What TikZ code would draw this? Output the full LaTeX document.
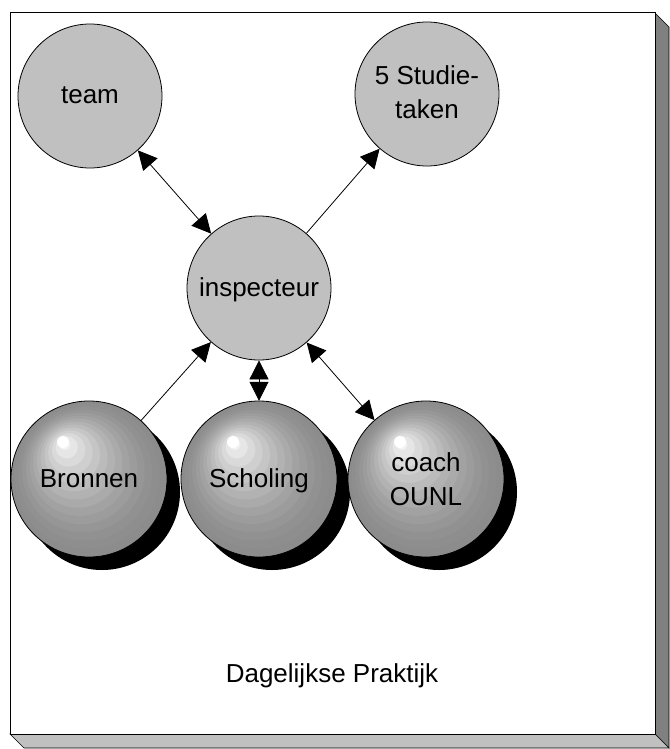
\documentclass[tikz,border=0pt]{standalone}
\usepackage{fontspec}
\setmainfont{Liberation Sans}
\usetikzlibrary{arrows.meta,calc}
\definecolor{circgray}{HTML}{C0C0C0}
\definecolor{darkside}{HTML}{808080}
\definecolor{lightside}{HTML}{C0C0C0}
\newcommand{\drawsphere}[1]{%
  \fill[black] ([xshift=13pt,yshift=-13pt]#1.center) circle[radius=78pt];
  \begin{scope}
    \clip (#1.center) circle[radius=78pt];
    \foreach \i in {0,...,13}{
      \pgfmathsetmacro\tt{\i/14}
      \pgfmathsetmacro\pp{45*(1-\tt^1.6)}
      \pgfmathsetmacro\dx{-26*\tt}
      \pgfmathsetmacro\dy{-37*\tt}
      \pgfmathsetmacro\rr{78*(1-\tt)}
      \fill[black!\pp] ($(#1.center)+(\dx,\dy)$) circle[radius=\rr pt];
    }
    \fill[white] ($(#1.center)+(-26,-37)$) circle[radius=6pt];
  \end{scope}
  \draw[line width=0.8pt] (#1.center) circle[radius=78pt];
}
\begin{document}
\begin{tikzpicture}[x=1pt,y=-1pt,
  plaincirc/.style={circle, draw=black, line width=0.8pt, fill=circgray, minimum size=144pt, inner sep=0pt},
  spherenode/.style={circle, minimum size=156pt, inner sep=0pt},
  lbl/.style={anchor=base, font=\fontsize{26}{34}\selectfont, inner sep=0pt},
  conn/.style={line width=0.8pt},
  tipend/.style={-{Triangle[length=19pt,width=19pt]}},
  bothend/.style={{Triangle[length=19pt,width=19pt]}-{Triangle[length=19pt,width=19pt]}}
]
\useasboundingbox (0,0) rectangle (669,749);
% frame with 3D sides
\filldraw[fill=darkside, draw=black, line width=0.6pt] (655,13) -- (669,27) -- (669,748) -- (655,734) -- cycle;
\filldraw[fill=lightside, draw=black, line width=0.6pt] (10,734) -- (655,734) -- (669,748) -- (24,748) -- cycle;
\filldraw[fill=white, draw=black, line width=1pt] (10,13) rectangle (655,734);

% plain circles
\node[plaincirc] (team) at (90,96) {};
\node[plaincirc] (stud) at (427,94) {};
\node[plaincirc] (insp) at (259,288) {};

% spheres
\node[spherenode] (bron) at (89,479) {};
\node[spherenode] (schol) at (259,479) {};
\node[spherenode] (coach) at (426,479) {};
\drawsphere{bron}
\drawsphere{schol}
\drawsphere{coach}

% labels
\node[lbl] (tteam) at ([yshift=-8pt]team.center) {team};
\node[lbl] (tstud1) at ([yshift=9pt]stud.center) {5 Studie-};
\node[lbl] (tstud2) at ([yshift=-25pt]stud.center) {taken};
\node[lbl] (tinsp) at ([yshift=-8pt]insp.center) {inspecteur};
\node[lbl] (tbron) at ([yshift=-8pt]bron.center) {Bronnen};
\node[lbl] (tschol) at ([yshift=-8pt]schol.center) {Scholing};
\node[lbl] (tcoach1) at ([yshift=8pt]coach.center) {coach};
\node[lbl] (tcoach2) at ([yshift=-26pt]coach.center) {OUNL};
\node[lbl] (tdag) at (332,682) {Dagelijkse Praktijk};

% connectors
\draw[conn, bothend] (team) -- (insp);
\draw[conn, tipend] (insp) -- (stud);
\draw[conn, tipend] (bron) -- (insp);
\draw[conn, bothend] (insp) -- (schol);
\draw[conn, bothend] (insp) -- (coach);
\end{tikzpicture}
\end{document}
